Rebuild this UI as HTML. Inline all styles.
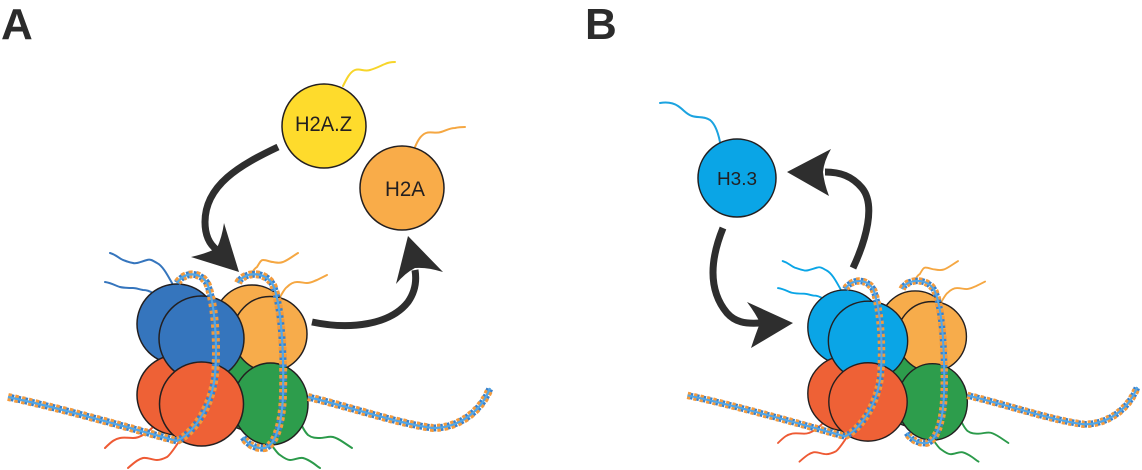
<!DOCTYPE html>
<html><head><meta charset="utf-8"><style>
html,body{margin:0;padding:0;background:#fff;}
svg{display:block;}
</style></head><body>
<svg width="1142" height="470" viewBox="0 0 1142 470" xmlns="http://www.w3.org/2000/svg">
<defs>
  <g id="dnapaths">
    <path d="M8 397 C60 408,130 428,177 441 C195 432,212 405,215 375 C218 340,214 300,207 283 C200 272,185 271,177 283"/>
    <path d="M238 283 C243 272,265 270,273 285 C282 305,284 360,283 395 C282 425,275 445,265 448 C255 449,247 444,243 437"/>
    <path d="M308 397 C350 407,400 424,433 428 C460 428,482 410,490 388"/>
  </g>
  <g id="nuc">
    <g fill="none" stroke-width="2" stroke-linecap="round">
      <path stroke="currentColor" d="M172 283 C168 276,163 266,157 263 C152 260,150 259,147 260 C140 262,136 264,133 263 C128 262,126 261,123 260 C118 258,117 255,110 253"/>
      <path stroke="currentColor" d="M153 293 C149 291,147 290,143 290 C138 289,136 288,133 288 C127 288,124 288,120 287 C116 286,112 283,105 282"/>
      <path stroke="#f5a742" d="M250 277 C252 272,255 268,257 267 C260 262,261 260,263 260 C267 260,270 262,273 262 C278 263,280 263,283 262 C288 260,290 258,298 253"/>
      <path stroke="#f5a742" d="M280 297 C283 292,285 288,287 287 C290 284,293 282,297 282 C301 282,304 283,307 283 C311 283,314 281,317 280 C321 278,323 277,327 275"/>
      <path stroke="#ee5a34" d="M154 426 C150 430,147 433,143 435 C139 437,137 438,133 438 C128 438,124 437,120 438 C115 439,112 441,105 448"/>
      <path stroke="#ee5a34" d="M178 443 C174 449,170 455,167 457 C163 459,160 460,157 460 C152 460,147 457,143 458 C139 459,136 461,128 468"/>
      <path stroke="#2b9a4a" d="M302 426 C304 430,306 433,308 435 C312 438,316 438,320 438 C325 438,329 436,333 437 C337 438,340 440,343 442 C346 444,349 446,352 448"/>
      <path stroke="#2b9a4a" d="M273 447 C276 451,278 454,280 455 C284 458,287 460,290 460 C295 460,299 457,303 458 C307 459,310 461,313 463 C316 465,318 467,320 468"/>
    </g>
    <g stroke="#231f20" stroke-width="1.5">
      <circle cx="252" cy="323" r="38" fill="#f7ac4b"/>
      <circle cx="252" cy="393" r="38" fill="#2d9d4c"/>
      <circle cx="177" cy="324" r="40" fill="currentColor"/>
      <circle cx="177" cy="395" r="40" fill="#ee6136"/>
      <ellipse cx="270" cy="334" rx="37" ry="37.5" fill="#f7ac4b"/>
      <ellipse cx="270.5" cy="404" rx="37.5" ry="41" fill="#2d9d4c"/>
      <circle cx="201.5" cy="338.5" r="42.5" fill="currentColor"/>
      <circle cx="201.5" cy="404" r="42" fill="#ee6136"/>
    </g>
    <use href="#dnapaths" fill="none" stroke="#f39a3c" stroke-width="8" stroke-dasharray="3.5 3.5"/>
    <use href="#dnapaths" fill="none" stroke="#3a7fc8" stroke-width="7" stroke-dasharray="2.5 4.5" stroke-dashoffset="3.5"/>
    <use href="#dnapaths" fill="none" stroke="#52a6e6" stroke-width="2.2"/>
  </g>
</defs>

<text x="1" y="39" font-family="Liberation Sans, sans-serif" font-weight="bold" font-size="44" fill="#2b2b2b">A</text>
<text x="585" y="39" font-family="Liberation Sans, sans-serif" font-weight="bold" font-size="44" fill="#2b2b2b">B</text>

<use href="#nuc" style="color:#3575bd"/>

<g fill="none" stroke-width="2" stroke-linecap="round">
  <path stroke="#f7d52a" d="M343 86 C347 78,350 72,355 70 C360 68,364 72,370 70 C377 68,380 66,385 64 C389 62,392 62,395 62"/>
  <path stroke="#f5a742" d="M415 147 C418 140,421 135,426 133 C431 131,435 134,441 132 C447 130,450 128,455 128 C459 127,462 127,465 127"/>
</g>
<circle cx="324" cy="126" r="42" fill="#fedb2c" stroke="#231f20" stroke-width="1.5"/>
<circle cx="402" cy="188" r="42" fill="#f9ac49" stroke="#231f20" stroke-width="1.5"/>
<text x="323.5" y="131" text-anchor="middle" font-family="Liberation Sans, sans-serif" font-size="21" fill="#231f20" textLength="57" lengthAdjust="spacingAndGlyphs">H2A.Z</text>
<text x="405" y="196" text-anchor="middle" font-family="Liberation Sans, sans-serif" font-size="21" fill="#231f20" textLength="40" lengthAdjust="spacingAndGlyphs">H2A</text>

<g fill="none" stroke="#2e2e2e" stroke-width="7">
  <path d="M278 147 C240 165,205 185,205 222 C205 235,209 244,217 250"/>
  <path d="M312 322 C350 330,390 325,408 302 C415 292,417 282,415 270"/>
</g>
<g fill="#2e2e2e">
  <path d="M239 272 L191 257 Q208 253,217 248 Q222 237,224 223 Z"/>
  <path d="M408 236 L443 272 Q427 267,415 268 Q405 273,396 284 Z"/>
</g>

<use href="#nuc" transform="translate(680,25) scale(0.933)" style="color:#0aa5e6"/>

<path fill="none" stroke="#1ba3e0" stroke-width="2" stroke-linecap="round" d="M720 142 C718 132,715 124,710 120 C704 116,698 118,692 116 C686 114,684 110,678 106 C672 102,666 102,660 103"/>
<circle cx="737" cy="178" r="39" fill="#0aa5e6" stroke="#231f20" stroke-width="1.5"/>
<text x="737" y="185" text-anchor="middle" font-family="Liberation Sans, sans-serif" font-size="18" fill="#231f20" textLength="40" lengthAdjust="spacingAndGlyphs">H3.3</text>

<g fill="none" stroke="#2e2e2e" stroke-width="7">
  <path d="M723 228 C710 260,708 290,727 313 C735 322,745 324,760 323"/>
  <path d="M853 268 C866 240,876 205,862 188 C852 176,840 172,825 172"/>
</g>
<g fill="#2e2e2e">
  <path d="M793 323 L747 302 Q756 314,760 323 Q756 333,751 348 Z"/>
  <path d="M787 172 L831 149 Q824 161,823 172 Q824 183,829 196 Z"/>
</g>
</svg>
</body></html>
